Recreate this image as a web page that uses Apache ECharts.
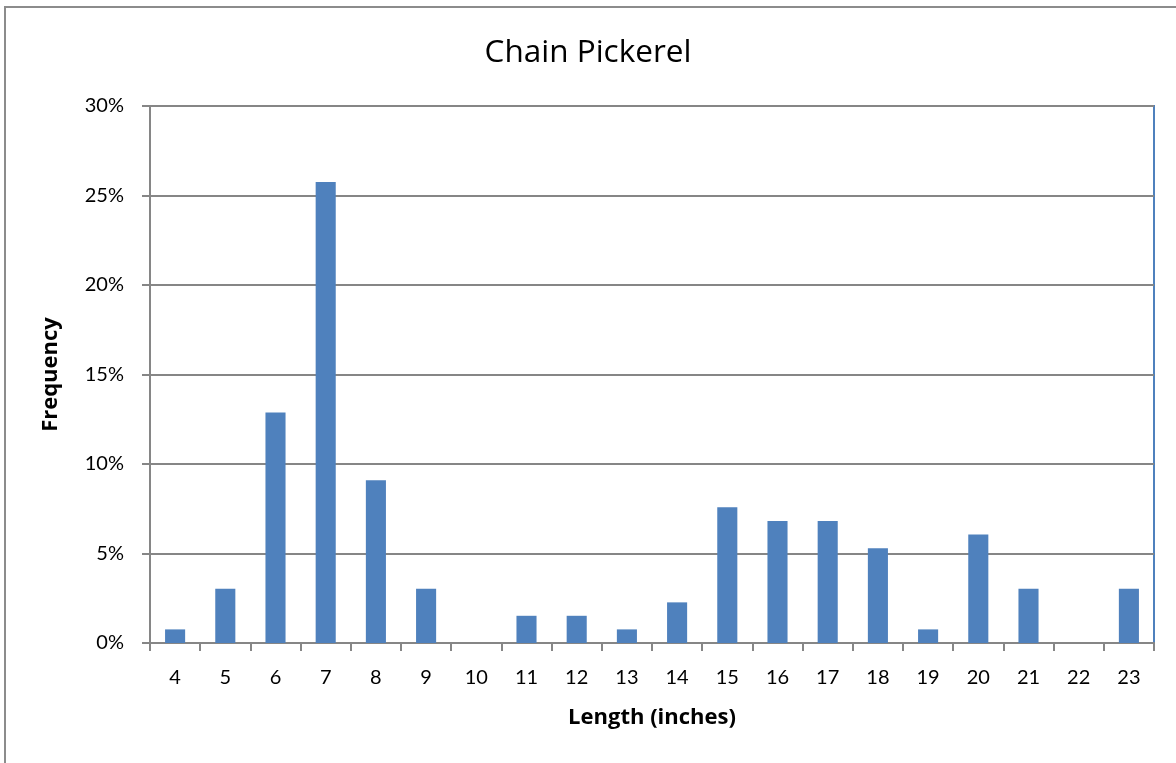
<!DOCTYPE html>
<html><head><meta charset="utf-8">
<script src="https://cdn.jsdelivr.net/npm/echarts@6/dist/echarts.min.js"></script>
<style>html,body{margin:0;padding:0;background:#fff}#c{width:1176px;height:763px}</style>
</head><body><div id="c"></div>
<script>
const categories = ['4','5','6','7','8','9','10','11','12','13','14','15','16','17','18','19','20','21','22','23'];
const frequency = [0.76,3.03,12.88,25.76,9.09,3.03,0,1.52,1.52,0.76,2.27,7.58,6.82,6.82,5.30,0.76,6.06,3.03,0,3.03];
const yTicks = [0,5,10,15,20,25,30];

const chart = echarts.init(document.getElementById('c'), null, {renderer:'canvas'});
const font = 'Lato, "Open Sans", sans-serif';
const font2 = '"Open Sans", Lato, sans-serif';
chart.setOption({
  animation:false,
  backgroundColor:'#fff',
  graphic:[{type:'rect',shape:{x:5,y:7,width:1200,height:800},style:{fill:'none',stroke:'#8c8c8c',lineWidth:2},z:-1}],
  title:{text:'Chain Pickerel',left:'center',top:32,textStyle:{fontFamily:font2,fontSize:31.5,fontWeight:'normal',color:'#000'}},
  grid:{left:150,top:106,right:22,bottom:120,show:true,borderColor:'#4F81BD',borderWidth:2,backgroundColor:'transparent'},
  xAxis:{type:'category',data:categories,
    name:'Length (inches)',nameLocation:'middle',nameGap:64,
    nameTextStyle:{fontFamily:font2,fontSize:22,fontWeight:'bold',color:'#000'},
    axisLine:{lineStyle:{color:'#868686',width:2}},
    axisTick:{show:true,length:8,lineStyle:{color:'#868686',width:2}},
    axisLabel:{margin:25,fontFamily:font,fontSize:20,color:'#000'}},
  yAxis:{type:'value',min:0,max:30,interval:5,
    name:'Frequency',nameLocation:'middle',nameGap:88,
    nameTextStyle:{fontFamily:font2,fontSize:22,fontWeight:'bold',color:'#000'},
    axisLine:{show:true,lineStyle:{color:'#868686',width:2}},
    axisTick:{show:true,length:8,lineStyle:{color:'#868686',width:2}},
    axisLabel:{margin:26,fontFamily:font,fontSize:20,color:'#000',formatter:v=>yTicks.includes(v)?v+'%':''},
    splitLine:{lineStyle:{color:'#868686',width:2}}},
  series:[{type:'bar',data:frequency,barWidth:'40%',
    itemStyle:{color:'#4F81BD'}}]
});
</script></body></html>
